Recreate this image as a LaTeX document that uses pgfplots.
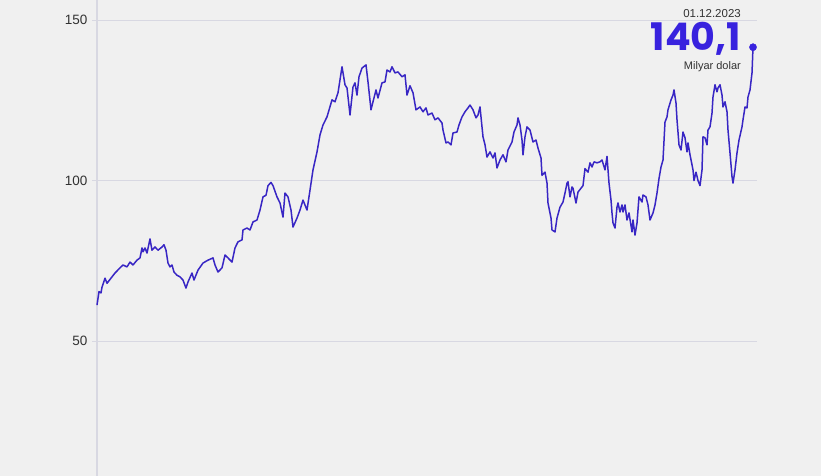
\documentclass[border=0pt]{standalone}
\usepackage{pgfplots}
\pgfplotsset{compat=1.18}
\usepackage{pgfplotstable}
\usepackage{fontspec}
\setmainfont{Liberation Sans}
\newfontfamily\pop{Poppins}

\definecolor{bg}{RGB}{240,240,240}
\definecolor{gridc}{RGB}{216,216,226}
\definecolor{linec}{RGB}{56,38,196}
\definecolor{bigc}{RGB}{56,34,222}
\definecolor{txt}{RGB}{50,50,50}

% x = trading-day index (no dates shown on the axis), y = billion dollars
\pgfplotstableread{
x y
0 61.2
2 65.4
4 65.0
5 66.8
8 69.6
10 68.0
11 68.4
14 69.6
18 71.2
23 72.8
26 73.7
30 73.1
33 74.6
36 73.7
40 75.2
43 75.9
45 79.0
46 77.8
48 79.0
50 77.4
53 81.8
55 78.3
58 79.3
61 78.3
65 79.3
67 80.0
69 78.3
71 74.3
73 73.1
75 73.7
77 71.5
80 70.5
83 70.0
86 69.0
89 66.5
91 68.4
95 71.2
97 69.0
101 72.1
106 74.3
111 75.2
116 75.9
118 73.7
121 71.5
125 72.8
128 76.8
131 75.9
135 74.6
138 79.0
141 80.9
145 81.5
146 84.6
150 85.2
153 84.6
156 87.1
160 87.7
163 90.8
166 94.9
169 95.4
171 98.4
174 99.4
176 98.4
180 94.9
183 93.0
186 88.6
188 96.1
191 94.9
194 90.8
196 85.5
200 88.3
203 90.8
206 93.9
210 90.8
213 97.0
216 103.3
220 108.9
223 114.2
226 117.3
230 119.8
235 125.1
238 124.5
241 127.3
245 135.4
248 129.8
250 128.8
253 120.4
256 129.1
258 130.4
260 126.6
262 132.3
265 135.0
269 136.0
271 130.7
274 122.0
276 124.5
279 128.2
281 125.7
285 130.4
288 130.7
290 134.4
293 133.8
295 135.4
298 133.5
301 133.8
305 132.3
308 132.9
310 126.6
313 129.5
316 127.3
319 122.0
323 122.9
326 121.4
329 122.6
331 120.4
335 121.0
338 118.9
341 119.5
345 117.9
346 115.7
349 111.7
351 112.0
354 111.1
356 114.8
360 115.1
362 117.3
365 119.8
368 121.4
371 122.6
373 123.5
376 122.0
379 119.5
381 120.4
383 122.9
386 113.6
388 111.1
390 107.3
393 108.9
396 107.0
398 108.6
400 103.9
403 106.4
406 108.0
409 105.8
411 109.5
415 112.0
417 115.1
420 117.3
421 119.5
423 117.3
425 112.6
426 108.0
428 113.6
430 116.7
433 115.7
436 112.0
439 112.6
441 110.1
444 107.0
445 101.6
448 102.6
450 99.2
451 93.0
454 88.3
455 84.6
458 84.0
460 88.3
463 91.7
466 93.3
468 96.1
470 99.2
471 99.6
473 94.9
475 98.0
476 97.6
479 93.0
481 96.4
484 97.6
486 98.4
488 103.7
491 102.6
493 105.5
495 104.2
497 105.8
500 105.5
503 105.8
505 106.4
508 103.3
510 107.5
512 99.2
514 93.9
515 89.9
516 86.8
518 85.2
520 91.7
521 93.0
523 90.2
525 92.4
526 90.2
528 92.4
530 87.7
532 89.9
535 84.0
536 87.7
538 83.0
540 86.8
542 94.9
545 93.3
546 95.5
549 94.9
551 92.4
553 87.7
556 89.9
558 92.4
560 96.1
562 100.6
564 104.2
566 106.4
568 118.2
570 119.8
571 122.0
574 125.1
576 126.6
577 128.2
579 124.1
580 118.9
582 111.1
584 109.5
586 115.1
588 113.3
590 108.9
591 111.7
593 108.0
596 103.3
597 100.0
599 102.6
601 100.0
603 98.4
605 103.3
606 113.6
608 113.3
610 111.1
611 115.7
613 116.7
615 121.0
616 126.0
618 129.8
620 127.6
621 128.8
623 129.8
625 126.6
626 122.9
628 124.5
630 121.4
631 115.7
633 108.6
635 101.2
636 99.2
638 103.3
640 108.6
642 112.6
645 116.7
646 118.9
648 122.9
650 122.6
651 126.0
653 128.2
655 133.5
656 141.5
}\reserves

\begin{document}
\begin{tikzpicture}[x=1pt,y=1pt]
\fill[bg] (0,0) rectangle (821,476);
\begin{axis}[
    at={(97pt,0pt)}, anchor=south west,
    scale only axis, width=660pt, height=476pt,
    xmin=0, xmax=660, ymin=8, ymax=156.2,
    hide x axis,
    axis y line*=left,
    y axis line style={draw=gridc, line width=1.3pt},
    ytick={50,100,150},
    tick align=outside,
    major tick length=5pt,
    tick style={draw=gridc, line width=0.8pt},
    ymajorgrids,
    major grid style={draw=gridc, line width=0.8pt},
    yticklabel style={font=\fontsize{13.5}{14}\selectfont, text=txt, xshift=-1pt},
    /pgf/number format/assume math mode=true,
    clip=false,
]
\addplot[linec, line width=1.5pt, line join=round] table[x=x, y=y] {\reserves};
\addplot[only marks, mark=*, mark size=3.6pt, bigc] coordinates {(656,141.5)};
\end{axis}
\node[anchor=base east, text=txt, font=\fontsize{11.5}{12}\selectfont, inner sep=0pt] at (741,458) {01.12.2023};
\node[anchor=base east, text=bigc, font=\fontsize{38}{38}\pop\bfseries, inner sep=0pt, text depth=0pt] at (741,425) {140,1};
\node[anchor=base east, text=txt, font=\fontsize{11}{12}\selectfont, inner sep=0pt] at (741,406) {Milyar dolar};
\pgfresetboundingbox
\path[use as bounding box] (0,0) rectangle (821,476);
\end{tikzpicture}
\end{document}
